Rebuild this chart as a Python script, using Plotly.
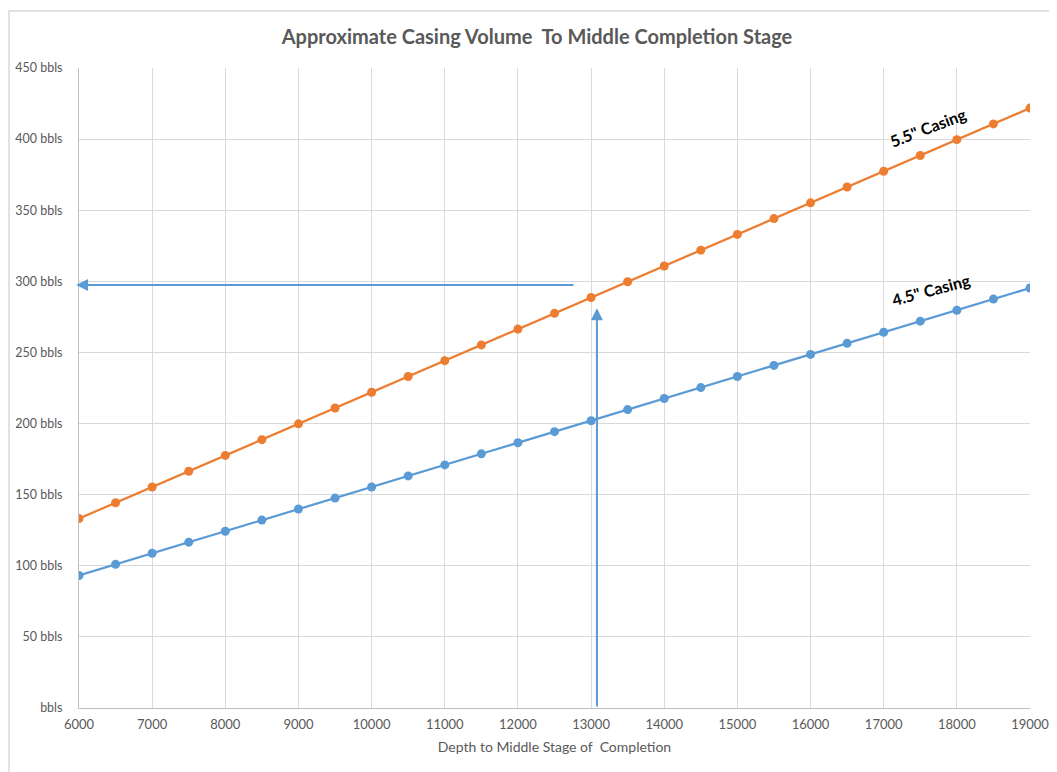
import plotly.graph_objects as go

depth = [6000, 6500, 7000, 7500, 8000, 8500, 9000, 9500, 10000, 10500, 11000, 11500, 12000,
         12500, 13000, 13500, 14000, 14500, 15000, 15500, 16000, 16500, 17000, 17500, 18000,
         18500, 19000]
vol_55 = [133.2, 144.3, 155.4, 166.5, 177.6, 188.7, 199.8, 210.9, 222.0, 233.1, 244.2, 255.3,
          266.4, 277.5, 288.6, 299.7, 310.8, 321.9, 333.0, 344.1, 355.2, 366.3, 377.4, 388.5,
          399.6, 410.7, 421.8]
vol_45 = [93.2, 101.0, 108.8, 116.6, 124.3, 132.1, 139.9, 147.6, 155.4, 163.2, 170.9, 178.7,
          186.5, 194.3, 202.0, 209.8, 217.6, 225.3, 233.1, 240.9, 248.6, 256.4, 264.2, 272.0,
          279.7, 287.5, 295.3]
x_ticks = [6000, 7000, 8000, 9000, 10000, 11000, 12000, 13000, 14000, 15000, 16000, 17000, 18000, 19000]
x_tick_text = ["6000", "7000", "8000", "9000", "10000", "11000", "12000", "13000", "14000",
               "15000", "16000", "17000", "18000", "19000"]
y_ticks = [0, 50, 100, 150, 200, 250, 300, 350, 400, 450]
y_tick_text = ["bbls", "50 bbls", "100 bbls", "150 bbls", "200 bbls", "250 bbls",
               "300 bbls", "350 bbls", "400 bbls", "450 bbls"]

# guide arrows (reading example)
ref_depth = 13080
ref_arrow_top = 281
ref_volume = 297.5
ref_h_start = 12780
ref_h_end = 5960

ORANGE = "#ed7d31"
BLUE = "#5b9bd5"
GRID = "#d9d9d9"
TXT = "#595959"
FONT = "Lato"

W, H = 1049, 764  # page has an 8px body margin
L, T = 71, 60
PW, PH = 951, 640

fig = go.Figure()
fig.add_trace(go.Scatter(x=depth, y=vol_45, mode="lines+markers", name='4.5" Casing',
                         line=dict(color=BLUE, width=2.25),
                         marker=dict(color=BLUE, size=9)))
fig.add_trace(go.Scatter(x=depth, y=vol_55, mode="lines+markers", name='5.5" Casing',
                         line=dict(color=ORANGE, width=2.25),
                         marker=dict(color=ORANGE, size=9)))

fig.update_layout(
    width=W, height=H,
    margin=dict(l=L, r=W - L - PW, t=T, b=H - T - PH, autoexpand=False),
    paper_bgcolor="white", plot_bgcolor="white",
    showlegend=False,
    font=dict(family=FONT, color=TXT, size=13),
    title=dict(text="<b>Approximate Casing Volume  To Middle Completion Stage</b>",
               x=(537 - 8) / W, xanchor="center", y=1 - 29 / H, yanchor="middle",
               font=dict(family=FONT, size=20, color=TXT)),
    xaxis=dict(range=[6000, 19000], tickvals=x_ticks, ticktext=x_tick_text, showgrid=True,
               gridcolor=GRID, gridwidth=1, zeroline=False, showline=True,
               linecolor="#bfbfbf", linewidth=1, automargin=False,
               ticks="outside", ticklen=4, tickcolor="rgba(0,0,0,0)",
               tickfont=dict(size=13, color=TXT),
               title=dict(text="Depth to Middle Stage of  Completion", standoff=11,
                          font=dict(size=14, color=TXT))),
    yaxis=dict(range=[0, 450], tickvals=y_ticks, ticktext=y_tick_text, showgrid=True,
               gridcolor=GRID, gridwidth=1, zeroline=False, showline=True, automargin=False,
               linecolor="#bfbfbf", linewidth=1, ticks="outside", ticklen=13,
               tickcolor="rgba(0,0,0,0)", tickfont=dict(size=12.5, color=TXT)),
)

# outer chart frame
fig.add_shape(type="rect", xref="paper", yref="paper",
              x0=-(L - 1) / PW, x1=1.2, y0=-0.3, y1=1 + (T - 3) / PH,
              line=dict(color=GRID, width=1.5), fillcolor="rgba(0,0,0,0)", layer="below")

# horizontal arrow to the volume axis
fig.add_annotation(x=ref_h_end, y=ref_volume, ax=ref_h_start, ay=ref_volume,
                   xref="x", yref="y", axref="x", ayref="y", text="", showarrow=True,
                   arrowhead=2, arrowsize=1.2, arrowwidth=2, arrowcolor=BLUE)
# vertical arrow from the depth axis
fig.add_annotation(x=ref_depth, y=ref_arrow_top, ax=ref_depth, ay=0,
                   xref="x", yref="y", axref="x", ayref="y", text="", showarrow=True,
                   arrowhead=2, arrowsize=1.2, arrowwidth=2, arrowcolor=BLUE)

# series labels
fig.add_annotation(x=17600, y=408, text='<b>5.5" Casing</b>', showarrow=False,
                   textangle=-21, font=dict(family=FONT, size=16, color="black"))
fig.add_annotation(x=17650, y=294, text='<b>4.5" Casing</b>', showarrow=False,
                   textangle=-15, font=dict(family=FONT, size=16, color="black"))

fig.write_html("out.html")
